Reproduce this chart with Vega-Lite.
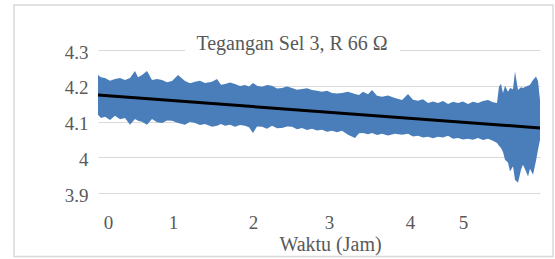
{
  "$schema": "https://vega.github.io/schema/vega-lite/v6.json",
  "width": 442,
  "height": 143,
  "autosize": {"type": "none"},
  "padding": {"left": 98, "top": 50, "right": 15, "bottom": 66},
  "background": "white",
  "config": {
    "view": {"stroke": null},
    "font": "Liberation Serif, Times New Roman, serif",
    "axisY": {
      "grid": true,
      "gridColor": "#d9d9d9",
      "gridWidth": 1,
      "ticks": false,
      "domain": false,
      "labelOverlap": false,
      "labelFont": "Liberation Serif, Times New Roman, serif",
      "labelFontSize": 19,
      "labelColor": "#595959",
      "labelPadding": 10,
      "labelOffset": 2,
      "tickCount": 5
    },
    "axisX": {
      "grid": false,
      "ticks": false,
      "domain": false,
      "labelFont": "Liberation Serif, Times New Roman, serif",
      "labelFontSize": 19,
      "labelColor": "#595959",
      "labelBaseline": "alphabetic",
      "labelPadding": 35,
      "labelFlush": false,
      "labelOverlap": false,
      "titleFont": "Liberation Serif, Times New Roman, serif",
      "titleFontSize": 20,
      "titleFontWeight": "normal",
      "titleColor": "#595959",
      "titleBaseline": "alphabetic",
      "titleAlign": "center",
      "titleX": 232,
      "titleY": 57
    }
  },
  "title": {
    "text": "Tegangan Sel 3, R 66 Ω",
    "font": "Liberation Serif, Times New Roman, serif",
    "fontSize": 20,
    "fontWeight": "normal",
    "color": "#595959",
    "baseline": "alphabetic",
    "offset": -66,
    "dx": -27,
    "anchor": "middle"
  },
  "datasets": {
    "band": [
      {"i": 0, "hi": 4.230, "lo": 4.119},
      {"i": 3, "hi": 4.224, "lo": 4.110},
      {"i": 7, "hi": 4.222, "lo": 4.113},
      {"i": 12, "hi": 4.214, "lo": 4.104},
      {"i": 17, "hi": 4.219, "lo": 4.116},
      {"i": 22, "hi": 4.222, "lo": 4.106},
      {"i": 27, "hi": 4.216, "lo": 4.110},
      {"i": 32, "hi": 4.222, "lo": 4.091},
      {"i": 37, "hi": 4.241, "lo": 4.107},
      {"i": 40, "hi": 4.224, "lo": 4.102},
      {"i": 44, "hi": 4.230, "lo": 4.099},
      {"i": 49, "hi": 4.241, "lo": 4.091},
      {"i": 54, "hi": 4.216, "lo": 4.107},
      {"i": 59, "hi": 4.219, "lo": 4.098},
      {"i": 64, "hi": 4.216, "lo": 4.096},
      {"i": 69, "hi": 4.210, "lo": 4.103},
      {"i": 74, "hi": 4.213, "lo": 4.102},
      {"i": 80, "hi": 4.230, "lo": 4.096},
      {"i": 87, "hi": 4.213, "lo": 4.091},
      {"i": 92, "hi": 4.207, "lo": 4.099},
      {"i": 97, "hi": 4.211, "lo": 4.096},
      {"i": 102, "hi": 4.214, "lo": 4.090},
      {"i": 107, "hi": 4.208, "lo": 4.093},
      {"i": 114, "hi": 4.211, "lo": 4.085},
      {"i": 119, "hi": 4.219, "lo": 4.088},
      {"i": 123, "hi": 4.203, "lo": 4.093},
      {"i": 127, "hi": 4.205, "lo": 4.088},
      {"i": 132, "hi": 4.209, "lo": 4.091},
      {"i": 137, "hi": 4.205, "lo": 4.085},
      {"i": 142, "hi": 4.199, "lo": 4.090},
      {"i": 147, "hi": 4.202, "lo": 4.088},
      {"i": 151, "hi": 4.198, "lo": 4.084},
      {"i": 155, "hi": 4.208, "lo": 4.068},
      {"i": 159, "hi": 4.200, "lo": 4.086},
      {"i": 164, "hi": 4.197, "lo": 4.085},
      {"i": 169, "hi": 4.202, "lo": 4.080},
      {"i": 174, "hi": 4.200, "lo": 4.088},
      {"i": 179, "hi": 4.192, "lo": 4.081},
      {"i": 184, "hi": 4.194, "lo": 4.082},
      {"i": 189, "hi": 4.198, "lo": 4.086},
      {"i": 194, "hi": 4.194, "lo": 4.085},
      {"i": 199, "hi": 4.189, "lo": 4.078},
      {"i": 204, "hi": 4.191, "lo": 4.082},
      {"i": 209, "hi": 4.193, "lo": 4.076},
      {"i": 214, "hi": 4.188, "lo": 4.080},
      {"i": 219, "hi": 4.186, "lo": 4.075},
      {"i": 224, "hi": 4.183, "lo": 4.077},
      {"i": 229, "hi": 4.186, "lo": 4.071},
      {"i": 234, "hi": 4.180, "lo": 4.074},
      {"i": 239, "hi": 4.178, "lo": 4.070},
      {"i": 244, "hi": 4.180, "lo": 4.074},
      {"i": 250, "hi": 4.183, "lo": 4.063},
      {"i": 257, "hi": 4.177, "lo": 4.054},
      {"i": 261, "hi": 4.174, "lo": 4.067},
      {"i": 265, "hi": 4.183, "lo": 4.068},
      {"i": 270, "hi": 4.176, "lo": 4.064},
      {"i": 274, "hi": 4.188, "lo": 4.068},
      {"i": 279, "hi": 4.172, "lo": 4.062},
      {"i": 284, "hi": 4.169, "lo": 4.066},
      {"i": 290, "hi": 4.173, "lo": 4.061},
      {"i": 297, "hi": 4.166, "lo": 4.066},
      {"i": 304, "hi": 4.160, "lo": 4.063},
      {"i": 310, "hi": 4.177, "lo": 4.066},
      {"i": 315, "hi": 4.161, "lo": 4.058},
      {"i": 320, "hi": 4.158, "lo": 4.060},
      {"i": 325, "hi": 4.162, "lo": 4.055},
      {"i": 330, "hi": 4.152, "lo": 4.057},
      {"i": 335, "hi": 4.156, "lo": 4.053},
      {"i": 340, "hi": 4.152, "lo": 4.057},
      {"i": 345, "hi": 4.157, "lo": 4.055},
      {"i": 350, "hi": 4.149, "lo": 4.060},
      {"i": 355, "hi": 4.155, "lo": 4.052},
      {"i": 360, "hi": 4.152, "lo": 4.054},
      {"i": 365, "hi": 4.156, "lo": 4.050},
      {"i": 370, "hi": 4.149, "lo": 4.052},
      {"i": 375, "hi": 4.155, "lo": 4.049},
      {"i": 380, "hi": 4.152, "lo": 4.054},
      {"i": 385, "hi": 4.157, "lo": 4.048},
      {"i": 390, "hi": 4.160, "lo": 4.052},
      {"i": 395, "hi": 4.154, "lo": 4.046},
      {"i": 399, "hi": 4.152, "lo": 4.040},
      {"i": 401, "hi": 4.198, "lo": 4.032},
      {"i": 403, "hi": 4.205, "lo": 4.026},
      {"i": 405, "hi": 4.180, "lo": 4.015},
      {"i": 407, "hi": 4.200, "lo": 3.993},
      {"i": 410, "hi": 4.183, "lo": 3.985},
      {"i": 412, "hi": 4.194, "lo": 3.960},
      {"i": 415, "hi": 4.190, "lo": 3.975},
      {"i": 417, "hi": 4.240, "lo": 3.937},
      {"i": 420, "hi": 4.188, "lo": 3.929},
      {"i": 423, "hi": 4.196, "lo": 3.965},
      {"i": 425, "hi": 4.194, "lo": 3.979},
      {"i": 428, "hi": 4.198, "lo": 3.960},
      {"i": 430, "hi": 4.200, "lo": 3.946},
      {"i": 432, "hi": 4.203, "lo": 3.968},
      {"i": 435, "hi": 4.216, "lo": 3.951},
      {"i": 438, "hi": 4.226, "lo": 3.990},
      {"i": 440, "hi": 4.213, "lo": 4.021},
      {"i": 442, "hi": 4.160, "lo": 4.049}
    ],
    "trend": [
      {"i": 0, "v": 4.174},
      {"i": 442, "v": 4.082}
    ]
  },
  "layer": [
    {
      "data": {"name": "band"},
      "mark": {"type": "area", "color": "#4A7EBB", "opacity": 1},
      "encoding": {
        "x": {
          "field": "i",
          "type": "quantitative",
          "title": "Waktu (Jam)",
          "scale": {"domain": [0, 442], "nice": false, "zero": false},
          "axis": {
            "values": [10, 75, 155, 231, 312, 365],
            "labelExpr": "'' + indexof([10, 75, 155, 231, 312, 365], datum.value)"
          }
        },
        "y": {
          "field": "lo",
          "type": "quantitative",
          "title": null,
          "scale": {"domain": [3.9, 4.3], "nice": false, "zero": false},
          "axis": {"values": [3.9, 4, 4.1, 4.2, 4.3], "format": ".2~f"}
        },
        "y2": {"field": "hi"}
      }
    },
    {
      "data": {"name": "trend"},
      "mark": {"type": "line", "color": "#000000", "strokeWidth": 3},
      "encoding": {
        "x": {"field": "i", "type": "quantitative", "title": "Waktu (Jam)",
          "axis": {
            "values": [10, 75, 155, 231, 312, 365],
            "labelExpr": "'' + indexof([10, 75, 155, 231, 312, 365], datum.value)"
          }},
        "y": {"field": "v", "type": "quantitative", "title": null,
          "axis": {"values": [3.9, 4, 4.1, 4.2, 4.3], "format": ".2~f"}}
      }
    },
    {
      "data": {"values": [{}]},
      "mark": {"type": "rect", "fill": "white"},
      "encoding": {
        "x": {"datum": 87, "type": "quantitative", "title": "Waktu (Jam)",
          "axis": {
            "values": [10, 75, 155, 231, 312, 365],
            "labelExpr": "'' + indexof([10, 75, 155, 231, 312, 365], datum.value)"
          }},
        "x2": {"datum": 302},
        "y": {"datum": 4.312, "type": "quantitative", "title": null,
          "axis": {"values": [3.9, 4, 4.1, 4.2, 4.3], "format": ".2~f"}},
        "y2": {"datum": 4.289}
      }
    },
    {
      "data": {"values": [{}]},
      "mark": {"type": "rect", "fill": null, "fillOpacity": 0, "stroke": "#d9d9d9", "strokeWidth": 1.5},
      "encoding": {
        "x": {"datum": -84, "type": "quantitative", "title": "Waktu (Jam)",
          "axis": {
            "values": [10, 75, 155, 231, 312, 365],
            "labelExpr": "'' + indexof([10, 75, 155, 231, 312, 365], datum.value)"
          }},
        "x2": {"datum": 455},
        "y": {"datum": 4.4256, "type": "quantitative", "title": null,
          "axis": {"values": [3.9, 4, 4.1, 4.2, 4.3], "format": ".2~f"}},
        "y2": {"datum": 3.7223}
      }
    }
  ]
}
